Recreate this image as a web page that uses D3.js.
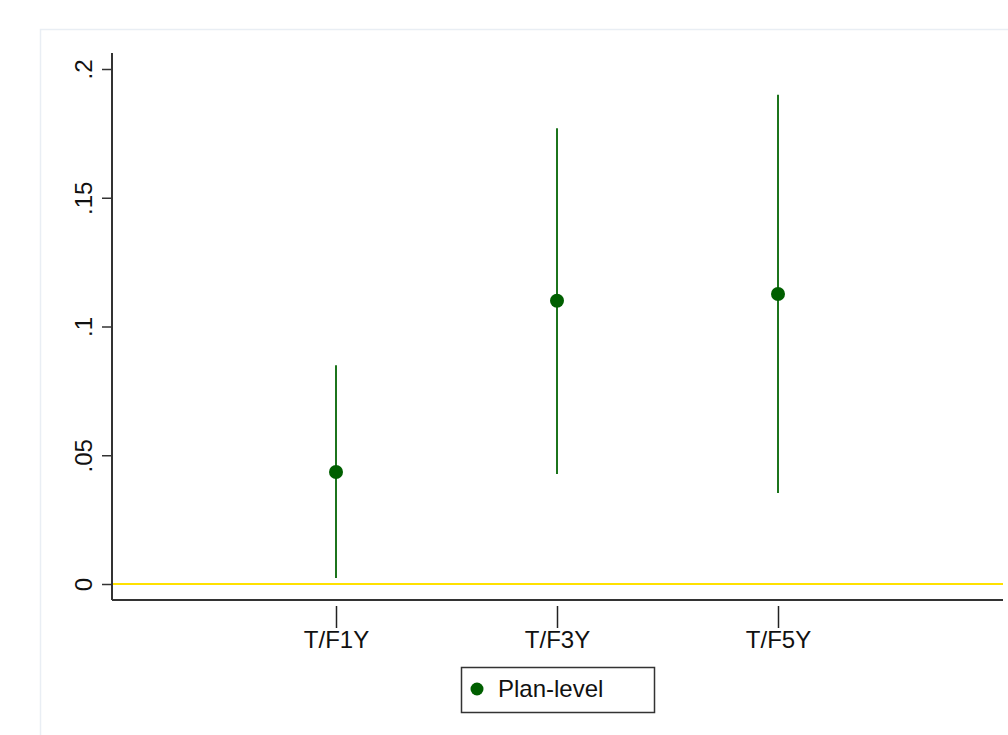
<!DOCTYPE html>
<html>
<head>
<meta charset="utf-8">
<script src="https://cdn.jsdelivr.net/npm/d3@7"></script>
<style>
  html, body { margin: 0; padding: 0; background: #fff; }
  svg { display: block; }
  text { font-family: "Liberation Sans", Arial, sans-serif; fill: #111; }
</style>
</head>
<body>
<svg id="chart" width="1008" height="735"></svg>
<script>
// Estimates with confidence intervals, one per horizon
const categories = ["T/F1Y", "T/F3Y", "T/F5Y"];
const estimates  = [0.0435, 0.110, 0.1126];
const ciLow      = [0.0023, 0.0427, 0.0353];
const ciHigh     = [0.085, 0.177, 0.190];
const yTicks     = [0, 0.05, 0.1, 0.15, 0.2];
const yTickLabels = ["0", ".05", ".1", ".15", ".2"];
const legendLabel = "Plan-level";

const FONT = "'Liberation Sans', Arial, sans-serif";
const svg = d3.select("#chart");

// outer graph region frame
svg.append("rect")
  .attr("x", 40.5).attr("y", 29.5)
  .attr("width", 1100).attr("height", 800)
  .attr("fill", "#fff")
  .attr("stroke", "#e9eef4").attr("stroke-width", 1.5);

const plotLeft = 112, plotRight = 1003, plotTop = 53, plotBottom = 600;

const y = d3.scaleLinear().domain([0, 0.2]).range([584, 69]);
const x = d3.scaleLinear().domain([0, 4]).range([115, 999]);

const g = svg.append("g");

// zero reference line
g.append("line")
  .attr("x1", plotLeft).attr("x2", plotRight)
  .attr("y1", y(0)).attr("y2", y(0))
  .attr("stroke", "#ffe100").attr("stroke-width", 2);

// y axis
const yAxis = d3.axisLeft(y)
  .tickValues(yTicks)
  .tickFormat((d, i) => yTickLabels[i])
  .tickSize(10).tickPadding(0);
const ya = g.append("g").attr("transform", `translate(${plotLeft},0)`).call(yAxis);
ya.select(".domain").remove();
ya.selectAll(".tick line").attr("stroke", "#333").attr("stroke-width", 1.5);
ya.selectAll(".tick text")
  .attr("x", 0).attr("y", 0).attr("dy", null)
  .attr("text-anchor", "middle")
  .attr("transform", "translate(-20,0) rotate(-90)")
  .style("font-size", "24px")
  .style("font-family", FONT)
  .attr("fill", "#111");
g.append("line")
  .attr("x1", plotLeft).attr("x2", plotLeft)
  .attr("y1", plotTop).attr("y2", plotBottom)
  .attr("stroke", "#333").attr("stroke-width", 2);

// x axis
g.append("line")
  .attr("x1", plotLeft).attr("x2", plotRight)
  .attr("y1", plotBottom).attr("y2", plotBottom)
  .attr("stroke", "#333").attr("stroke-width", 2);
const xAxis = d3.axisBottom(x)
  .tickValues(categories.map((c, i) => i + 1))
  .tickFormat((d) => categories[d - 1])
  .tickSize(22).tickPadding(3);
const xa = g.append("g").attr("transform", `translate(0,${plotBottom + 6})`).call(xAxis);
xa.select(".domain").remove();
xa.selectAll(".tick line").attr("stroke", "#222").attr("stroke-width", 1.5);
xa.selectAll(".tick text")
  .style("font-size", "24px")
  .style("font-family", FONT)
  .attr("fill", "#111");

// confidence intervals
g.selectAll("line.ci").data(categories).enter().append("line")
  .attr("class", "ci")
  .attr("x1", (d, i) => x(i + 1)).attr("x2", (d, i) => x(i + 1))
  .attr("y1", (d, i) => y(ciLow[i])).attr("y2", (d, i) => y(ciHigh[i]))
  .attr("stroke", "#1c741c").attr("stroke-width", 2);

// point estimates
g.selectAll("circle.pt").data(categories).enter().append("circle")
  .attr("class", "pt")
  .attr("cx", (d, i) => x(i + 1)).attr("cy", (d, i) => y(estimates[i]))
  .attr("r", 7).attr("fill", "#005f00");

// legend
const lg = svg.append("g").attr("transform", "translate(461,667)");
lg.append("rect").attr("x", 0.5).attr("y", 0.5).attr("width", 193).attr("height", 45)
  .attr("fill", "#fff").attr("stroke", "#333").attr("stroke-width", 1.5);
lg.append("circle").attr("cx", 16).attr("cy", 22).attr("r", 6.5).attr("fill", "#005f00");
lg.append("text").attr("x", 37).attr("y", 30)
  .style("font-size", "24px").style("font-family", FONT).text(legendLabel);
</script>
</body>
</html>
